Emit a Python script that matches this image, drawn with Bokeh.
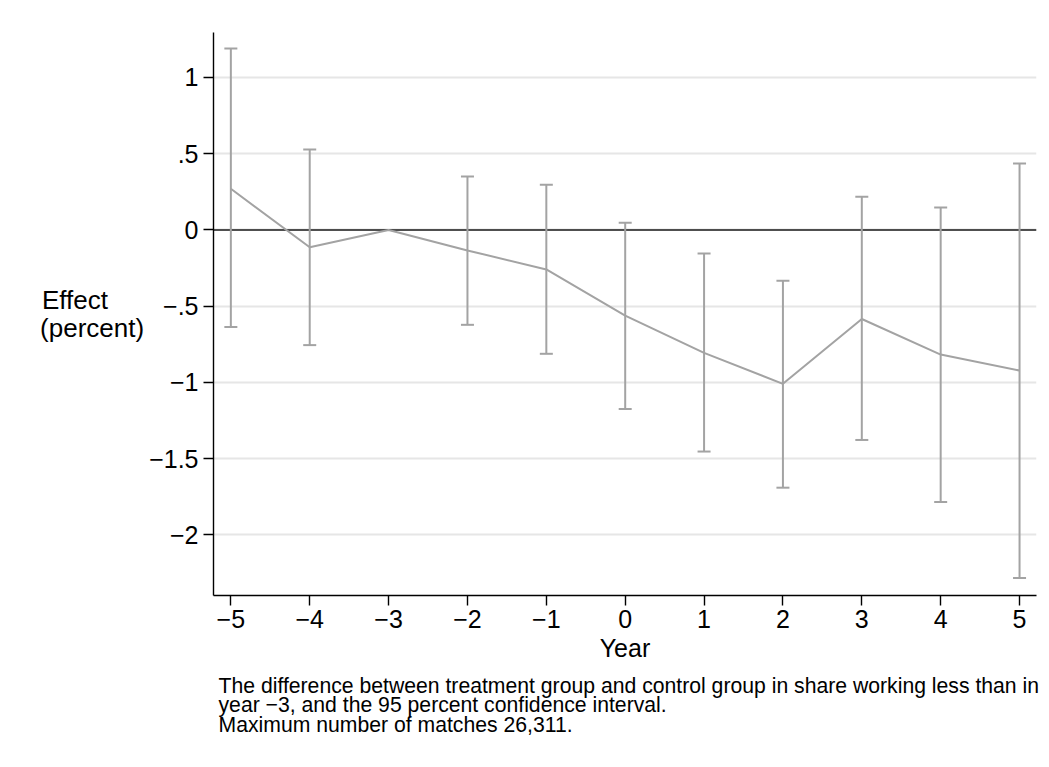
from bokeh.plotting import figure
from bokeh.models import (ColumnDataSource, Whisker, TeeHead, Span, Title,
                          FixedTicker, Range1d)
from bokeh.embed import file_html
from bokeh.resources import INLINE

# ---- data ----
years = [-5, -4, -3, -2, -1, 0, 1, 2, 3, 4, 5]
effect = [0.27, -0.113, 0.0, -0.134, -0.259, -0.562, -0.806, -1.009, -0.584, -0.817, -0.922]
ci_upper = [1.19, 0.528, None, 0.351, 0.296, 0.048, -0.155, -0.333, 0.218, 0.148, 0.436]
ci_lower = [-0.637, -0.755, None, -0.622, -0.812, -1.174, -1.453, -1.69, -1.377, -1.784, -2.283]

x_tick_labels = ["\u22125", "\u22124", "\u22123", "\u22122", "\u22121", "0", "1", "2", "3", "4", "5"]
y_ticks = [1, 0.5, 0, -0.5, -1, -1.5, -2]
y_tick_labels = ["1", ".5", "0", "\u2212.5", "\u22121", "\u22121.5", "\u22122"]

y_title_lines = ["Effect", "(percent)"]
x_title = "Year"
caption = [
    "The difference between treatment group and control group in share working less than in",
    "year \u22123, and the 95 percent confidence interval.",
    "Maximum number of matches 26,311.",
]

FONT = "Liberation Sans"
SERIES = "#a3a3a3"

p = figure(frame_width=823, frame_height=563,
           min_border_left=213, min_border_right=8, min_border_top=32, min_border_bottom=165,
           x_range=Range1d(-5.22, 5.215), y_range=Range1d(-2.397, 1.295),
           output_backend="svg", toolbar_location=None)
p.background_fill_color = "white"
p.border_fill_color = "white"
p.outline_line_color = None

# axes
for ax in (p.xaxis[0], p.yaxis[0]):
    ax.axis_line_color = "black"
    ax.axis_line_width = 1.4
    ax.major_tick_line_color = "black"
    ax.major_tick_line_width = 1.4
    ax.major_tick_out = 10
    ax.major_tick_in = 0
    ax.minor_tick_line_color = None
    ax.major_label_text_font = FONT
    ax.major_label_text_font_size = "25px"
    ax.major_label_text_color = "black"
    ax.axis_label_text_font = FONT
    ax.axis_label_text_font_size = "25px"
    ax.axis_label_text_font_style = "normal"
    ax.axis_label_text_color = "black"

p.xaxis.ticker = FixedTicker(ticks=years)
p.xaxis.major_label_overrides = {y: lab for y, lab in zip(years, x_tick_labels)}
p.xaxis.major_label_standoff = 4
p.xaxis.axis_label = x_title
p.xaxis.axis_label_standoff = 3

# the multi-line title is centred by Bokeh; pad the short first line with
# non-breaking spaces so that both lines start at the same left edge
pad = "\u00a0" * 5
p.yaxis.ticker = FixedTicker(ticks=y_ticks)
p.yaxis.major_label_overrides = {t: lab for t, lab in zip(y_ticks, y_tick_labels)}
p.yaxis.major_label_standoff = 5
p.yaxis.axis_label = y_title_lines[0] + pad + "\n" + y_title_lines[1]
p.yaxis.axis_label_orientation = "horizontal"
p.yaxis.axis_label_text_font_size = "26px"
p.yaxis.axis_label_text_line_height = 0.95
p.yaxis.axis_label_standoff = 2

p.xgrid.grid_line_color = None
p.ygrid.grid_line_color = "#e6e6e6"
p.ygrid.grid_line_width = 1.8

# zero line
p.add_layout(Span(location=0, dimension="width", line_color="#1a1a1a",
                  line_width=1.3, level="underlay"))

# confidence intervals
ci_x = [x for x, u in zip(years, ci_upper) if u is not None]
ci_u = [u for u in ci_upper if u is not None]
ci_l = [l for l in ci_lower if l is not None]
ci_src = ColumnDataSource(dict(x=ci_x, upper=ci_u, lower=ci_l))
w = Whisker(base="x", upper="upper", lower="lower", source=ci_src,
            line_color=SERIES, line_width=2, level="glyph",
            upper_head=TeeHead(size=13, line_color=SERIES, line_width=2),
            lower_head=TeeHead(size=13, line_color=SERIES, line_width=2))
p.add_layout(w)

# point estimates
p.line(years, effect, line_color=SERIES, line_width=2)

# caption below the x-axis title
cap = Title(text="\n".join(caption), align="left", offset=5, standoff=15,
            text_font=FONT, text_font_size="21.2px", text_font_style="normal",
            text_color="black", text_line_height=0.85)
p.add_layout(cap, "below")

open("out.html", "w").write(file_html(p, INLINE))
